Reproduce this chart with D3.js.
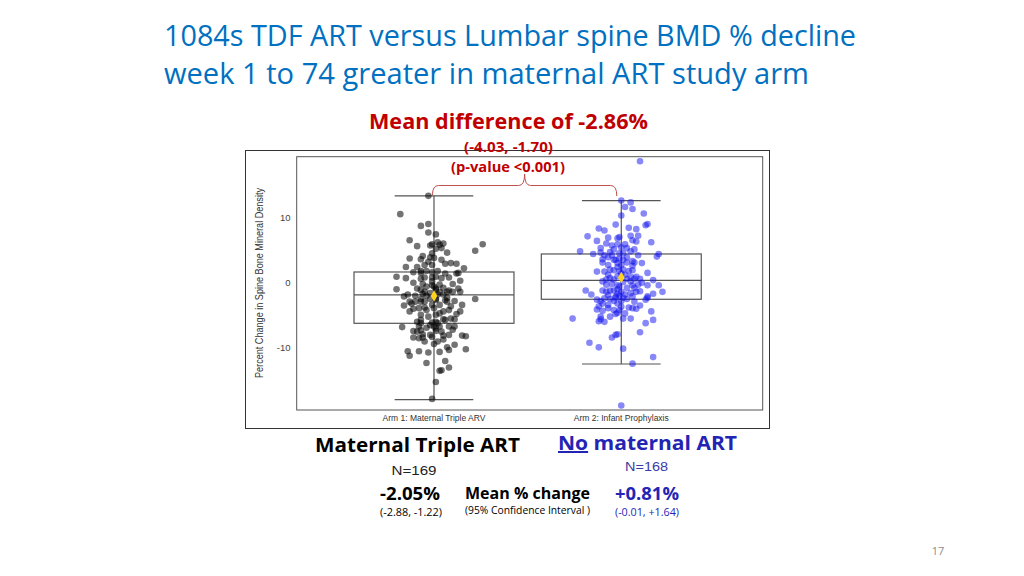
<!DOCTYPE html>
<html lang="en">
<head>
<meta charset="UTF-8">
<title>Lumbar spine BMD % change by study arm</title>
<script src="https://cdn.jsdelivr.net/npm/d3@7/dist/d3.min.js"></script>
<style>
  body { margin: 0; background: #fff; }
  svg { display: block; }
</style>
</head>
<body>
<svg id="chart" width="1024" height="576"></svg>
<script>
// ---- data ----
var arms = ["Arm 1: Maternal Triple ARV", "Arm 2: Infant Prophylaxis"];
var yTicks = [-10, 0, 10];

// box stats per arm (percent change)
var boxQ1 = [-6.22, -2.54];
var boxMedian = [-1.88, 0.37];
var boxQ3 = [1.64, 4.4];
var whiskerLow = [-17.9, -12.45];
var whiskerHigh = [13.3, 12.56];
var armMean = [-2.05, 0.81];

// jittered points: horizontal jitter (category units) and % change
var arm1Jitter = [-0.03,-0.18,-0.07,-0.03,-0.03,0.01,-0.13,-0.09,-0.02,0.03,0.05,0.04,0.07,0.26,0.22,-0.13,-0.06,-0.02,-0.01,0.00,
  0.04,-0.05,-0.01,0.06,0.09,0.12,-0.15,-0.09,0.16,-0.11,-0.07,-0.07,-0.01,0.02,0.12,0.13,-0.20,-0.15,-0.07,-0.05,
  -0.01,0.04,0.08,0.14,-0.11,-0.06,-0.01,0.03,-0.20,-0.07,-0.05,0.00,0.01,0.05,0.08,0.10,0.14,-0.14,-0.16,-0.10,
  -0.04,0.02,0.05,0.07,-0.07,-0.13,0.01,0.07,0.11,0.22,-0.16,-0.12,-0.08,-0.05,-0.01,0.03,0.09,0.15,-0.11,-0.04,
  0.05,0.08,-0.07,0.01,0.05,0.12,-0.07,-0.01,0.02,0.06,0.11,-0.17,-0.08,-0.04,0.00,0.03,0.11,-0.11,-0.07,0.01,
  -0.09,-0.06,-0.02,0.05,0.08,0.15,0.17,-0.11,-0.06,-0.01,0.11,-0.14,-0.13,-0.08,-0.03,0.07,0.08,0.17,-0.04,0.06,
  0.08,0.04,0.03,0.01,-0.01,-0.03,0.01,-0.01,0.01,0.03,-0.02,0.06,-0.05,0.00,0.03,-0.03,0.01,0.09,-0.07,0.04,
  -0.09,0.10,-0.05,0.02,0.00,-0.10,-0.06,0.06,-0.04,-0.07,0.10,0.01,-0.02,-0.08,0.05,0.03,0.02,-0.01,0.01,-0.09,
  0.07,-0.04,-0.13,0.14,0.08,0.01,-0.02,0.13,-0.07];
var arm1Change = [13.3,10.5,8.7,9.0,7.7,7.4,6.5,5.6,5.7,5.8,6.0,5.3,4.6,5.9,4.9,3.7,4.1,3.9,4.5,3.8,
  3.5,2.7,2.7,2.9,3.0,2.9,2.4,2.4,2.2,1.6,1.8,1.5,1.6,1.8,1.4,1.5,0.9,0.7,0.6,0.8,
  0.8,0.7,0.8,0.3,0.0,-0.2,-0.4,-0.3,-1.0,-1.1,-1.4,-0.6,-1.1,-0.8,-1.2,-1.4,-1.4,-1.8,-2.1,-2.0,
  -2.0,-1.8,-1.8,-2.3,-2.5,-2.9,-2.6,-2.9,-2.8,-2.5,-3.5,-3.2,-3.9,-3.8,-3.4,-3.4,-3.6,-3.4,-4.0,-4.2,
  -4.4,-4.2,-4.9,-4.9,-5.6,-4.8,-5.7,-6.1,-6.2,-5.7,-5.6,-6.8,-6.7,-6.9,-6.7,-6.7,-6.7,-7.4,-7.3,-7.4,
  -7.5,-7.9,-8.0,-8.1,-8.0,-8.1,-8.2,-8.4,-8.4,-8.3,-9.5,-10.5,-11.2,-10.5,-10.7,-9.9,-10.3,-10.2,-12.3,-12.0,
  -13.0,-13.4,-13.5,-15.2,-17.8,3.2,0.9,0.2,-0.9,-1.4,-1.6,-2.7,-2.9,-3.9,-4.7,-5.2,-6.0,-5.5,-6.2,-7.5,
  -6.0,-7.2,-9.0,-9.0,-9.4,-2.9,-1.7,1.4,1.8,3.6,-0.2,-2.5,-2.5,-8.5,-8.7,-10.6,6.2,5.9,5.2,-0.9,
  -1.4,-0.6,-4.4,-4.4,-6.7,-7.0,-6.5,-0.9,-2.9];

var arm2Jitter = [0.10,0.00,0.02,0.05,0.06,0.12,0.00,0.14,0.13,-0.03,-0.12,-0.09,-0.07,-0.18,-0.13,-0.02,-0.01,0.04,0.08,0.09,
  0.05,0.06,0.08,0.16,-0.11,-0.05,-0.02,-0.04,0.02,0.00,-0.22,-0.15,-0.06,-0.11,-0.09,-0.01,0.05,0.07,0.19,0.20,
  -0.10,-0.07,-0.03,-0.01,0.01,0.03,0.06,0.07,-0.10,-0.07,-0.02,0.03,0.00,-0.09,-0.06,-0.04,-0.01,0.01,0.04,0.06,
  0.14,-0.02,0.02,0.05,-0.08,-0.06,-0.04,0.03,0.07,0.10,0.17,-0.08,-0.05,-0.02,0.01,0.05,0.09,0.11,0.14,0.20,
  -0.19,-0.16,-0.10,-0.06,-0.04,0.00,0.03,0.07,-0.07,-0.02,-0.01,0.02,0.06,0.14,0.17,0.22,-0.13,-0.11,-0.09,-0.06,
  -0.04,0.00,0.03,0.13,0.14,-0.12,-0.13,-0.10,-0.07,-0.04,0.00,-0.01,0.04,0.06,0.08,0.16,-0.26,-0.11,-0.11,-0.12,
  -0.09,-0.03,-0.02,0.01,0.05,0.17,0.13,-0.05,-0.03,-0.02,0.10,-0.17,-0.12,0.01,0.17,0.06,0.00,-0.05,0.01,-0.02,
  0.06,-0.07,0.00,0.08,-0.10,-0.01,0.06,-0.08,-0.02,0.05,0.10,-0.10,-0.03,-0.02,0.07,-0.07,0.02,-0.06,0.10,-0.04,
  0.03,-0.08,0.09,0.11,-0.13,-0.03,0.01,0.08];
var arm2Change = [18.6,12.6,11.6,12.3,11.3,10.6,10.3,9.0,8.8,8.9,8.3,8.0,6.9,7.1,6.4,6.8,7.0,8.4,8.2,7.2,
  7.2,6.5,6.3,6.2,5.3,5.7,5.9,5.1,5.9,5.4,4.8,4.4,4.7,4.6,4.2,4.5,4.8,5.1,4.0,4.4,
  3.6,3.9,3.5,3.7,4.5,3.9,3.3,3.1,3.1,2.7,3.0,3.1,2.7,1.7,2.0,1.9,1.8,2.0,1.8,1.9,
  1.5,1.0,1.2,0.9,0.5,0.7,0.5,0.6,0.6,0.6,0.4,-0.3,-0.2,-0.4,0.1,0.2,-0.3,0.0,-0.4,-0.4,
  -1.2,-1.8,-1.2,-1.2,-1.2,-1.4,-0.8,-0.8,-1.9,-1.7,-2.0,-1.8,-2.1,-2.1,-1.7,-1.4,-2.6,-2.8,-2.4,-2.5,
  -2.8,-2.8,-2.5,-2.6,-2.3,-3.6,-4.1,-4.3,-3.9,-4.2,-3.7,-4.2,-3.8,-3.9,-4.0,-4.4,-5.5,-5.2,-5.6,-5.9,
  -6.0,-4.8,-4.6,-5.5,-5.5,-5.7,-6.2,-8.4,-8.0,-7.9,-7.6,-9.2,-9.9,-10.1,-11.4,-12.4,-18.8,4.2,3.5,2.4,
  2.6,1.2,1.4,0.9,0.2,-0.6,-0.4,-1.4,-1.0,-1.6,-1.3,-3.2,-2.3,-3.2,-2.9,-3.4,-4.7,-5.2,-3.5,3.5,
  5.3,6.0,4.2,3.0,1.7,-2.1,-2.3,-1.4];

// ---- layout ----
var svg = d3.select("#chart");
var calibri = "'Open Sans', 'Noto Sans', sans-serif";
var arial = "'Liberation Sans', Arial, sans-serif";

var panel = {left: 296.7, right: 762.7, top: 156.7, bottom: 410};

var x = d3.scaleLinear().domain([0.267, 2.755]).range([panel.left, panel.right]);
var y = d3.scaleLinear().domain([-19.5, 19.3]).range([panel.bottom, panel.top]);

// plain text helper; fit = target width in px (squeezes wider fallback font)
function label(px, py, str, o) {
  var t = svg.append("text")
    .attr("x", px).attr("y", py)
    .attr("text-anchor", o.anchor || "middle")
    .attr("font-family", o.family || calibri)
    .attr("font-size", o.size)
    .attr("font-weight", o.weight || "normal")
    .attr("fill", o.color || "#000")
    .text(str);
  if (o.fit) t.attr("textLength", o.fit).attr("lengthAdjust", "spacingAndGlyphs");
  return t;
}

// title
label(164, 46, "1084s TDF ART versus Lumbar spine BMD % decline",
  {anchor: "start", size: 29, color: "#0070C0", fit: 692});
label(164, 84, "week 1 to 74 greater in maternal ART study arm",
  {anchor: "start", size: 29, color: "#0070C0", fit: 645});

// outer frame + panel
svg.append("rect").attr("x", 245.5).attr("y", 150.5).attr("width", 524).attr("height", 278)
  .attr("fill", "#fff").attr("stroke", "#333").attr("stroke-width", 1);
svg.append("rect").attr("x", panel.left).attr("y", panel.top)
  .attr("width", panel.right - panel.left).attr("height", panel.bottom - panel.top)
  .attr("fill", "none").attr("stroke", "#555").attr("stroke-width", 1);

// y axis labels (no grid)
svg.append("g").selectAll("text").data(yTicks).enter().append("text")
  .attr("x", 290.5).attr("y", function(d) { return y(d) + 3.5; })
  .attr("text-anchor", "end").attr("font-family", arial).attr("font-size", 9.5)
  .attr("fill", "#444").text(function(d) { return d; });

svg.append("text")
  .attr("transform", "translate(263," + 283 + ") rotate(-90)")
  .attr("text-anchor", "middle").attr("font-family", arial).attr("font-size", 10.5)
  .attr("fill", "#333").attr("textLength", 190).attr("lengthAdjust", "spacingAndGlyphs")
  .text("Percent Change in Spine Bone Mineral Density");

// x category labels
svg.append("g").selectAll("text").data(arms).enter().append("text")
  .attr("x", function(d, i) { return x(i + 1); }).attr("y", 420.5)
  .attr("text-anchor", "middle").attr("font-family", arial).attr("font-size", 8.5)
  .attr("fill", "#333").text(function(d) { return d; });

// boxes
var boxHalf = 0.427, capHalf = 0.21;
var boxes = svg.append("g").attr("stroke", "#555").attr("stroke-width", 1.2).attr("fill", "none");
arms.forEach(function(a, i) {
  var c = i + 1;
  boxes.append("line").attr("x1", x(c)).attr("x2", x(c))
    .attr("y1", y(whiskerHigh[i])).attr("y2", y(whiskerLow[i]));
  [whiskerHigh[i], whiskerLow[i]].forEach(function(v) {
    boxes.append("line").attr("x1", x(c - capHalf)).attr("x2", x(c + capHalf))
      .attr("y1", y(v)).attr("y2", y(v));
  });
  boxes.append("rect").attr("x", x(c - boxHalf)).attr("y", y(boxQ3[i]))
    .attr("width", x(c + boxHalf) - x(c - boxHalf)).attr("height", y(boxQ1[i]) - y(boxQ3[i]));
  boxes.append("line").attr("x1", x(c - boxHalf)).attr("x2", x(c + boxHalf))
    .attr("y1", y(boxMedian[i])).attr("y2", y(boxMedian[i]));
});

// jittered points
var pts = svg.append("g");
pts.selectAll("circle.a1").data(arm1Change).enter().append("circle")
  .attr("class", "a1")
  .attr("cx", function(d, i) { return x(1 + arm1Jitter[i]); })
  .attr("cy", function(d) { return y(d); })
  .attr("r", 3.3).attr("fill", "#000").attr("fill-opacity", 0.55);
pts.selectAll("circle.a2").data(arm2Change).enter().append("circle")
  .attr("class", "a2")
  .attr("cx", function(d, i) { return x(2 + arm2Jitter[i]); })
  .attr("cy", function(d) { return y(d); })
  .attr("r", 3.3).attr("fill", "#1010f0").attr("fill-opacity", 0.5);

// means
svg.append("g").selectAll("path").data(armMean).enter().append("path")
  .attr("d", d3.symbol().type(d3.symbolDiamond).size(38))
  .attr("transform", function(d, i) { return "translate(" + x(i + 1) + "," + y(d) + ")"; })
  .attr("fill", "#FFD21F");

// brace between the arms
var bl = x(1) - 1.5, br = x(2) - 4.5, bm = (bl + br) / 2, by = 185.5;
svg.append("path")
  .attr("d", "M" + bl + ",195 Q" + bl + "," + by + " " + (bl + 6) + "," + by +
    " L" + (bm - 6) + "," + by + " Q" + bm + "," + by + " " + bm + ",174" +
    " Q" + bm + "," + by + " " + (bm + 6) + "," + by +
    " L" + (br - 6) + "," + by + " Q" + br + "," + by + " " + br + ",196")
  .attr("fill", "none").attr("stroke", "#C0504D").attr("stroke-width", 1);

// difference annotation
label(508.5, 129, "Mean difference of -2.86%", {size: 21, weight: "bold", color: "#C00000", fit: 279});
label(508.5, 152, "(-4.03, -1.70)", {size: 13.5, weight: "bold", color: "#C00000", fit: 89});
label(508, 172, "(p-value <0.001)", {size: 13.5, weight: "bold", color: "#C00000", fit: 114});

// arm summaries
label(417.5, 451.5, "Maternal Triple ART", {size: 20, weight: "bold", color: "#000", fit: 205});
var no = label(647.5, 450, "", {size: 20, weight: "bold", color: "#2424B4", fit: 179});
no.append("tspan").attr("text-decoration", "underline").text("No");
no.append("tspan").text(" maternal ART");

label(414, 474.5, "N=169", {size: 13, family: arial, color: "#222", fit: 45});
label(646.5, 471, "N=168", {size: 13, family: arial, color: "#3a3aa8", fit: 43});

label(410, 500, "-2.05%", {size: 18, weight: "bold", color: "#000", fit: 60});
label(527.5, 498.5, "Mean % change", {size: 15.5, weight: "bold", color: "#000", fit: 125});
label(647, 500, "+0.81%", {size: 18, weight: "bold", color: "#2424B4", fit: 64});

label(411, 515.5, "(-2.88, -1.22)", {size: 10, color: "#000", fit: 62});
label(527.5, 514, "(95% Confidence Interval )", {size: 10, color: "#000", fit: 125});
label(647, 515.5, "(-0.01, +1.64)", {size: 10, color: "#2424B4", fit: 64});

// slide number
label(938, 555, "17", {size: 11, color: "#8a8a8a"});
</script>
</body>
</html>
